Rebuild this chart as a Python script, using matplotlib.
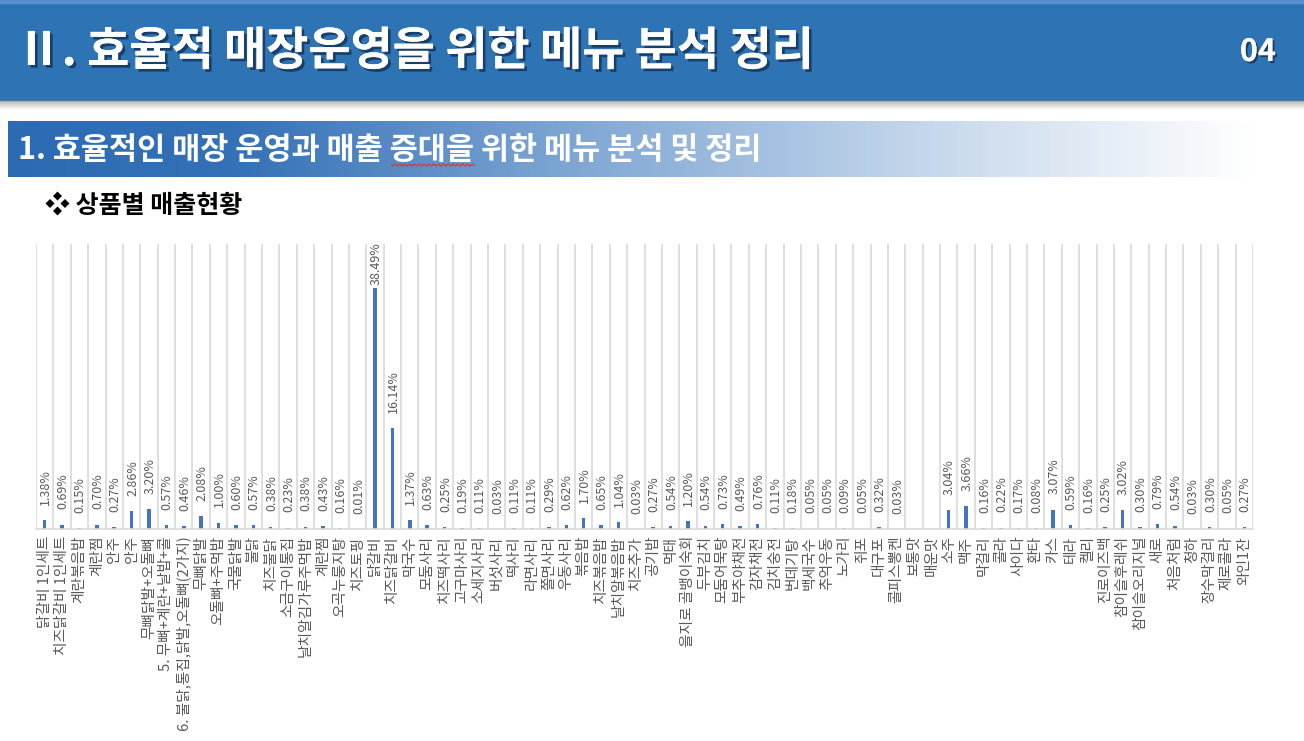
import matplotlib
matplotlib.use('Agg')
import matplotlib.pyplot as plt
import matplotlib.patheffects as pe
from matplotlib.patches import Rectangle
from matplotlib.colors import LinearSegmentedColormap
import numpy as np

plt.rcParams['font.family'] = ['Noto Sans CJK KR', 'DejaVu Sans']

# 상품별 매출 비중 (%)
categories = [
    '닭갈비 1인세트', '치즈닭갈비 1인세트', '계란볶음밥', '계란찜', '안주', '안주',
    '무뼈닭발+오돌뼈', '5. 무뼈+계란+날밥+콜', '6. 불닭,통집,닭발,오돌뼈(2가지)', '무뼈닭발',
    '오돌뼈+주먹밥', '국물닭발', '불닭', '치즈불닭', '소금구이통집', '날치알김가루주먹밥',
    '계란찜', '오곡누룽지탕', '치즈토핑', '닭갈비', '치즈닭갈비', '막국수', '모둠사리',
    '치즈떡사리', '고구마사리', '소세지사리', '버섯사리', '떡사리', '라면사리', '쫄면사리',
    '우동사리', '볶음밥', '치즈볶음밥', '날치알볶음밥', '치즈추가', '공기밥', '먹태',
    '을지로 골뱅이숙회', '두부김치', '모둠어묵탕', '부추야채전', '감자채전', '김치숭전',
    '번데기탕', '백세국수', '추억우동', '노가리', '쥐포', '대구포', '콜피스뽕켄', '보통맛',
    '매운맛', '소주', '맥주', '막걸리', '콜라', '사이다', '환타', '카스', '테라', '켈리',
    '진로이즈백', '참이슬후레쉬', '참이슬오리지널', '새로', '처음처럼', '청하', '장수막걸리',
    '제로콜라', '와인1잔',
]
values = [
    1.38, 0.69, 0.15, 0.70, 0.27, 2.86, 3.20, 0.57, 0.46, 2.08,
    1.00, 0.60, 0.57, 0.38, 0.23, 0.38, 0.43, 0.16, 0.01, 38.49,
    16.14, 1.37, 0.63, 0.25, 0.19, 0.11, 0.03, 0.11, 0.11, 0.29,
    0.62, 1.70, 0.65, 1.04, 0.03, 0.27, 0.54, 1.20, 0.54, 0.73,
    0.49, 0.76, 0.11, 0.18, 0.05, 0.05, 0.09, 0.05, 0.32, 0.03,
    np.nan, np.nan, 3.04, 3.66, 0.16, 0.22, 0.17, 0.08, 3.07, 0.59,
    0.16, 0.25, 3.02, 0.30, 0.79, 0.54, 0.03, 0.30, 0.05, 0.27,
]

title = 'Ⅱ. 효율적 매장운영을 위한 메뉴 분석 정리'
subtitle_pre = '1. 효율적인 매장 운영과 매출 '
subtitle_err = '증대을'
subtitle_post = ' 위한 메뉴 분석 및 정리'

W, H = 1304, 741
fig = plt.figure(figsize=(W / 100, H / 100), dpi=100)

# 배경(슬라이드) 레이어
bg = fig.add_axes([0, 0, 1, 1])
bg.axis('off')

bg.add_patch(Rectangle((0, 0), W, 100, color='#2E74B5', zorder=1))
bg.add_patch(Rectangle((0, 0), W, 3, color='#5A8FCF', zorder=2))

# 헤더 아래 그림자
sh = np.zeros((20, 1, 4))
sh[:, 0, :3] = 0.45
sh[:, 0, 3] = np.linspace(0.55, 0.0, 20)
bg.imshow(sh, extent=(0, W, 110, 100), aspect='auto', zorder=1)

# 소제목 띠 그라데이션
cmap = LinearSegmentedColormap.from_list(
    'band', [(0, '#2C6BB3'), (0.18, '#3471B7'), (0.45, '#7EA6D3'),
             (0.75, '#C8D9EC'), (1, '#FFFFFF')])
grad = np.linspace(0, 1, 512).reshape(1, -1)
bg.imshow(grad, cmap=cmap, extent=(8, 1255, 177, 121), aspect='auto', zorder=1)

bg.set_xlim(0, W)
bg.set_ylim(H, 0)

bg.text(16, 52, title, color='white',
        fontsize=33, fontweight='black', va='center', ha='left', zorder=3,
        path_effects=[pe.withSimplePatchShadow(offset=(2, -2), shadow_rgbFace='#163A63', alpha=0.9),
                      pe.Normal()])
bg.text(1276, 52, '04', color='white', fontsize=22, fontweight='bold',
        va='center', ha='right', zorder=3,
        path_effects=[pe.withSimplePatchShadow(offset=(1.5, -1.5), shadow_rgbFace='#163A63', alpha=0.9),
                      pe.Normal()])
sub = bg.text(18, 150, subtitle_pre + subtitle_err + subtitle_post, color='white',
              fontsize=22, fontweight='bold', va='center', ha='left', zorder=3)

# 맞춤법 밑줄 (증대을 아래)
r = fig.canvas.get_renderer()
tmp1 = bg.text(18, 150, subtitle_pre, fontsize=22, fontweight='bold', va='center')
tmp2 = bg.text(18, 150, subtitle_pre + subtitle_err, fontsize=22, fontweight='bold', va='center')
x0 = 18 + tmp1.get_window_extent(r).width
x1 = 18 + tmp2.get_window_extent(r).width
tmp1.remove()
tmp2.remove()
wx = np.linspace(x0 + 2, x1, 60)
bg.plot(wx, 165 + 1.2 * np.sin(wx * 1.3), color='#E03030', lw=0.8, zorder=3)

bg.text(45, 206, '❖ 상품별 매출현황', color='black', fontsize=18, fontweight='bold',
        va='center', ha='left', zorder=3)

# 차트
ax = fig.add_axes([36 / W, (H - 529) / H, (1253 - 36) / W, (529 - 244) / H])
x = np.arange(len(categories))
ymax = 45.5
ax.bar(x, values, width=0.2, color='#4472C4', zorder=2)
ax.set_xlim(-0.5, len(categories) - 0.5)
ax.set_ylim(0, ymax)

for k in np.arange(-0.5, len(categories)):
    ax.axvline(k, color='#D9D9D9', lw=1.2, zorder=0)

for xi, v in zip(x, values):
    if np.isnan(v):
        continue
    gap = 2 if v > 35 else 11
    ax.annotate(f'{v:.2f}%', (xi + 0.05, v), xytext=(0, gap), textcoords='offset points',
                rotation=90, ha='center', va='bottom', fontsize=9, color='#595959')

ax.set_xticks(x)
ax.set_xticklabels(categories, rotation=90, fontsize=10.6, color='#595959')
ax.tick_params(axis='x', length=0, pad=5)
ax.set_yticks([])
for s in ['top', 'left', 'right']:
    ax.spines[s].set_visible(False)
ax.spines['bottom'].set_color('#D9D9D9')
ax.spines['bottom'].set_linewidth(1.2)
ax.patch.set_alpha(0)

fig.savefig('out.png', dpi=100)
